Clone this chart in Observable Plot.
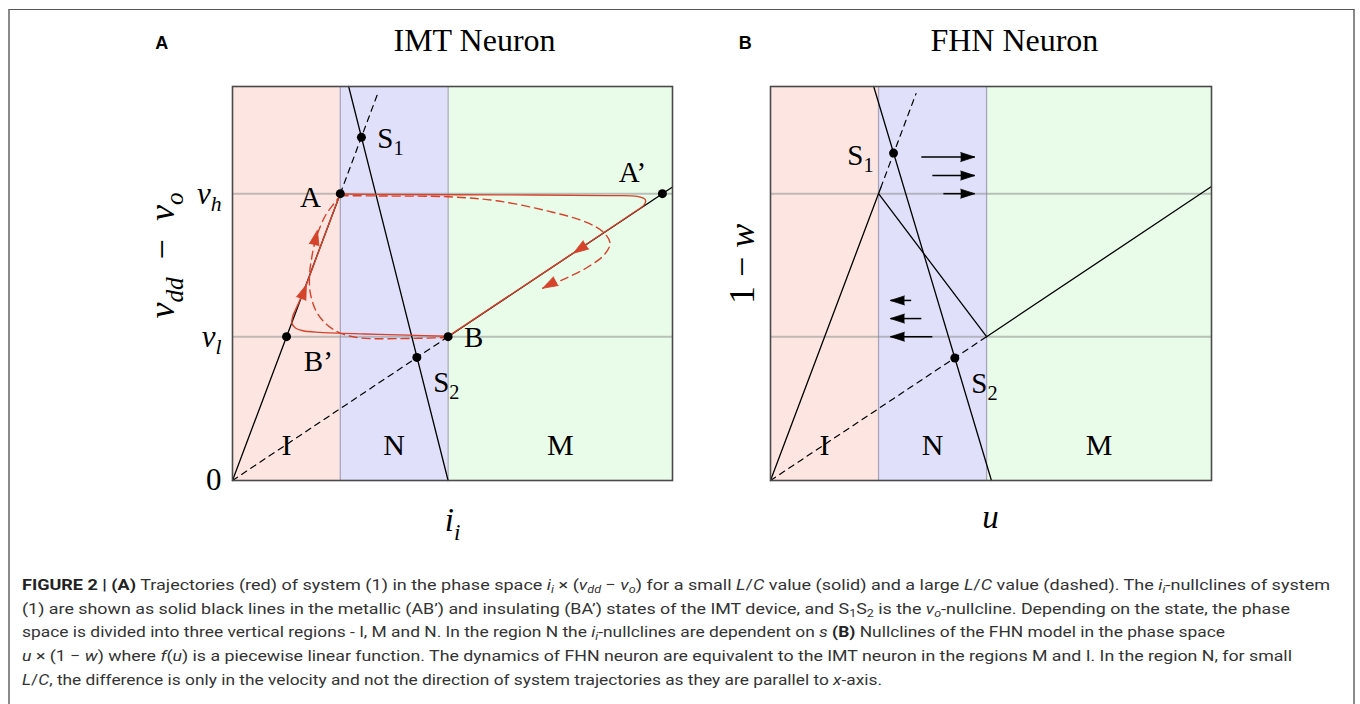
<!DOCTYPE html>
<html><head><meta charset="utf-8">
<script src="https://cdn.jsdelivr.net/npm/d3@7"></script>
<script src="https://cdn.jsdelivr.net/npm/@observablehq/plot@0.6"></script>
<style>
body{margin:0;background:#fff;}
#root{position:relative;width:1360px;height:704px;overflow:hidden;background:#fff;}
.panel{position:absolute;top:0;}
#frame{position:absolute;left:8px;top:9px;width:1343px;height:740px;border-top:1.5px solid #555;border-left:2px solid #8a8a8a;border-right:2px solid #8a8a8a;pointer-events:none;z-index:5;}
.cap{position:absolute;left:22px;white-space:nowrap;font-family:Roboto,"Liberation Sans",sans-serif;font-size:15.5px;line-height:24px;color:#333;transform-origin:0 50%;}
.cap sub{font-size:70%;vertical-align:-0.3em;line-height:0;}
.cap b{font-weight:700;color:#222;}
</style></head>
<body><div id="root"></div>
<script>
// ---------------- shared data ----------------
const regionNames = ["I", "N", "M"];
const regionStart = [0, 2.45, 4.9];
const regionEnd   = [2.45, 4.9, 10];
const regionLabelY = 0.89;
const levelValues = [3.65, 7.28];           // v_l, v_h
const levelTickText = ["v_l", "v_h", "0"];
const levelTickY    = [3.65, 7.28, 0];

// ---------------- panel A : IMT neuron ----------------
const imtMetallic      = [[0, 0], [2.45, 7.28]];
const imtMetallicExt   = [[2.45, 7.28], [3.3, 9.82]];
const imtInsulating    = [[4.9, 3.65], [10, 7.45]];
const imtInsulatingExt = [[0, 0], [4.9, 3.65]];
const imtVoNull        = [[2.64, 10], [4.9, 0]];
const imtPointX = [2.45, 9.77, 4.9, 1.228, 2.93, 4.19];
const imtPointY = [7.28, 7.28, 3.65, 3.65, 8.71, 3.124];
const imtLabelText = ["A", "A’", "B", "B’", "S_1", "S_2"];
const imtLabelX    = [1.77, 9.09, 5.48, 1.95, 3.59, 4.86];
const imtLabelY    = [7.18, 7.82, 3.63, 3.02, 8.68, 2.49];
// trajectory for small L/C (solid): B -> B' -> A, then A -> A' -> B
const trajSolidUp = [[4.9,3.66],[4.0,3.69],[3.0,3.72],[2.0,3.76],[1.6,3.8],[1.43,3.87],[1.35,3.99],[1.37,4.17],[1.46,4.4],[1.6,4.75],
  [2.0,5.94],[2.3,6.84],[2.45,7.27]];
const trajSolidDown = [[2.45,7.27],[3.5,7.26],[6.0,7.25],[8.5,7.23],[9.2,7.21],[9.38,7.13],[9.36,7.0],[9.1,6.79],[7.0,5.22],[4.9,3.66]];
// trajectory for large L/C (dashed)
const trajDashedUp = [[4.9,3.63],[3.75,3.6],[2.9,3.62],[2.45,3.74],[2.13,3.97],[1.9,4.3],[1.77,4.75],[1.75,5.2],[1.8,5.65],[1.9,6.15],
  [2.1,6.7],[2.3,7.02],[2.45,7.23]];
const trajDashedDown = [[2.45,7.23],[3.5,7.22],[4.9,7.2],[6.0,7.1],[7.2,6.83],[8.05,6.55],[8.45,6.28],[8.58,6.02],[8.45,5.73],[8.05,5.4],[7.55,5.12],[7.05,4.88]];
const redArrowX  = [1.68, 1.93, 7.75, 7.05];
const redArrowY  = [4.97, 6.35, 5.77, 4.88];
const redArrowDX = [1, 0.12, -1, -0.5];
const redArrowDY = [2.97, 0.6, -0.745, -0.3];

// ---------------- panel B : FHN neuron ----------------
const fhnLeft     = [[0, 0], [2.5, 7.43]];
const fhnLeftExt  = [[2.5, 7.43], [3.3, 9.82]];
const fhnMiddle   = [[2.45, 7.28], [4.9, 3.65]];
const fhnRight    = [[4.9, 3.65], [10, 7.46]];
const fhnOrigin   = [[0, 0], [4.9, 3.65]];
const fhnWNull    = [[2.34, 10], [5.01, 0]];
const fhnPointX = [2.79, 4.18];
const fhnPointY = [8.31, 3.11];
const fhnLabelText = ["S_1", "S_2"];
const fhnLabelX = [2.04, 4.85];
const fhnLabelY = [8.25, 2.46];
const flowRightTail = [3.42, 3.67, 3.92];
const flowRightTip  = [4.63, 4.63, 4.63];
const flowRightY    = [8.21, 7.74, 7.28];
const flowLeftTail  = [3.19, 3.42, 3.67];
const flowLeftTip   = [2.72, 2.72, 2.72];
const flowLeftY     = [4.57, 4.11, 3.65];

// ---------------- styles ----------------
const RED = "#d5432b";
const SERIF = "Liberation Serif, 'DejaVu Serif', serif";
const SANS = "Liberation Sans, Arial, sans-serif";
const regionColors = ["#fde6e1", "#e0e0fa", "#e9fce9"];

const rich = {
  "v_h": {fs: 31, segs: [["v","i"],["h","is"]]},
  "v_l": {fs: 31, segs: [["v","i"],["l","is"]]},
  "S_1": {fs: 29, segs: [["S",""],["1","s"]]},
  "S_2": {fs: 29, segs: [["S",""],["2","s"]]},
  "vdd-vo": {fs: 36, segs: [["v","i"],["dd","is"],["  ",""],["\u2212",""],["  ",""],["v","i"],["o","is"]]},
  "1-w": {fs: 36, segs: [["1 ",""],["\u2212",""],[" ",""],["w","i"]]},
  "i_i": {fs: 33, segs: [["i","i"],["i","is"]]},
  "u": {fs: 33, segs: [["u","i"]]}
};
function applyRich(svg) {
  svg.querySelectorAll("text").forEach(t => {
    const spec = rich[t.textContent];
    if (!spec) return;
    while (t.firstChild) t.removeChild(t.firstChild);
    t.setAttribute("font-size", spec.fs);
    let shift = 0;
    for (const [s, f] of spec.segs) {
      const ts = document.createElementNS("http://www.w3.org/2000/svg", "tspan");
      ts.textContent = s;
      ts.setAttribute("font-style", f.includes("i") ? "italic" : "normal");
      const sub = f.includes("s");
      const want = sub ? spec.fs * 0.25 : 0;
      if (want !== shift) { ts.setAttribute("dy", want - shift); shift = want; }
      ts.setAttribute("font-size", sub ? spec.fs * 0.7 : spec.fs);
      t.appendChild(ts);
    }
  });
}

const pairs = (pts, id) => pts.map(p => ({x: p[0], y: p[1], id}));
const ang = (dx, dy, kx, ky) => Math.atan2(dx * kx, dy * ky) * 180 / Math.PI;
const regions = regionNames.map((n, i) => ({name: n, x1: regionStart[i], x2: regionEnd[i]}));

function baseMarks() {
  return [
    Plot.rect(regions, {x1: "x1", x2: "x2", fill: "name"}),
    Plot.ruleX(regionStart.slice(1), {stroke: "#aaa4bc", strokeWidth: 1.3}),
    Plot.ruleY(levelValues, {stroke: "#8f8f8f", strokeOpacity: 0.55, strokeWidth: 2}),
    Plot.text(regions, {x: d => (d.x1 + d.x2) / 2, y: () => regionLabelY, text: "name", fontFamily: SERIF, fontSize: 30, fill: "black"})
  ];
}

function plotPanel(cfg) {
  const svg = Plot.plot({
    width: cfg.width, height: 545,
    marginLeft: cfg.ml, marginRight: cfg.mr, marginTop: 86, marginBottom: 65,
    x: {domain: [0, 10], axis: null},
    y: {domain: [0, 10], axis: null},
    color: {domain: regionNames, range: regionColors},
    style: {background: "transparent", overflow: "visible"},
    marks: cfg.marks
  });
  svg.classList.add("panel");
  svg.style.left = cfg.left + "px";
  applyRich(svg);
  return svg;
}

const root = document.getElementById("root");

// Panel A
const kxA = 44, kyA = 39.4;
const imtSolidLines = [...pairs(imtMetallic, "m"), ...pairs(imtInsulating, "i"), ...pairs(imtVoNull, "v")];
const imtDashLines = [...pairs(imtMetallicExt, "m"), ...pairs(imtInsulatingExt, "i")];
const imtPoints = imtPointX.map((x, i) => ({x, y: imtPointY[i]}));
const imtLabels = imtLabelText.map((t, i) => ({t, x: imtLabelX[i], y: imtLabelY[i]}));
const redArrows = redArrowX.map((x, i) => ({x, y: redArrowY[i], a: ang(redArrowDX[i], redArrowDY[i], kxA, kyA)}));
const ticks = levelTickText.map((t, i) => ({t, y: levelTickY[i]}));
const solidTraj = [...pairs(trajSolidUp, "u"), ...pairs(trajSolidDown, "d")];
const dashedTraj = [...pairs(trajDashedUp, "u"), ...pairs(trajDashedDown, "d")];

root.appendChild(plotPanel({
  width: 700, ml: 232, mr: 28, left: 0,
  marks: [
    ...baseMarks(),
    Plot.line(imtDashLines, {x: "x", y: "y", z: "id", stroke: "black", strokeWidth: 1.2, strokeDasharray: "6,5"}),
    Plot.line(imtSolidLines, {x: "x", y: "y", z: "id", stroke: "black", strokeWidth: 1.3}),
    Plot.line(dashedTraj, {x: "x", y: "y", z: "id", curve: "catmull-rom", stroke: RED, strokeWidth: 1.4, strokeDasharray: "8,5"}),
    Plot.line(solidTraj, {x: "x", y: "y", z: "id", curve: "catmull-rom", stroke: RED, strokeWidth: 1.4}),
    Plot.vector(redArrows, {x: "x", y: "y", rotate: "a", length: 15, r: 5, shape: "spike", anchor: "end", fill: RED, stroke: RED, strokeWidth: 0.8}),
    Plot.frame({stroke: "#4a4a4a", strokeWidth: 1.6}),
    Plot.dot(imtPoints, {x: "x", y: "y", r: 4.5, fill: "black"}),
    Plot.text(imtLabels, {x: "x", y: "y", text: "t", fontFamily: SERIF, fontSize: 29, fill: "black"}),
    Plot.text(ticks, {x: () => -0.25, y: "y", text: "t", textAnchor: "end", fontFamily: SERIF, fontSize: 31, fill: "black"}),
    Plot.text(["vdd-vo"], {x: () => -1.59, y: () => 5.71, text: d => d, rotate: -90, fontFamily: SERIF, fontSize: 36, fill: "black"}),
    Plot.text(["i_i"], {x: () => 5.0, y: () => -1.02, text: d => d, fontFamily: SERIF, fontSize: 33, fill: "black"}),
    Plot.text(["A"], {x: () => -1.61, y: () => 11.09, text: d => d, fontFamily: SANS, fontWeight: "bold", fontSize: 18, fill: "black"}),
    Plot.text(["IMT Neuron"], {x: () => 5.5, y: () => 11.17, text: d => d, fontFamily: SERIF, fontSize: 32, fill: "black"})
  ]
}));

// Panel B
const kxB = 44.1, kyB = 39.4;
const fhnSolidLines = [...pairs(fhnLeft, "l"), ...pairs(fhnMiddle, "m"), ...pairs(fhnRight, "r"), ...pairs(fhnWNull, "w")];
const fhnDashLines = [...pairs(fhnLeftExt, "e"), ...pairs(fhnOrigin, "o")];
const fhnPoints = fhnPointX.map((x, i) => ({x, y: fhnPointY[i]}));
const fhnLabels = fhnLabelText.map((t, i) => ({t, x: fhnLabelX[i], y: fhnLabelY[i]}));
const flows = [
  ...flowRightTail.map((x, i) => ({x1: x, x2: flowRightTip[i], y: flowRightY[i], a: ang(1, 0, kxB, kyB)})),
  ...flowLeftTail.map((x, i) => ({x1: x, x2: flowLeftTip[i], y: flowLeftY[i], a: ang(-1, 0, kxB, kyB)}))
];

root.appendChild(plotPanel({
  width: 660, ml: 70, mr: 149, left: 700,
  marks: [
    ...baseMarks(),
    Plot.line(fhnDashLines, {x: "x", y: "y", z: "id", stroke: "black", strokeWidth: 1.2, strokeDasharray: "6,5"}),
    Plot.line(fhnSolidLines, {x: "x", y: "y", z: "id", stroke: "black", strokeWidth: 1.3}),
    Plot.link(flows, {x1: "x1", x2: "x2", y1: "y", y2: "y", stroke: "black", strokeWidth: 1.5}),
    Plot.vector(flows, {x: "x2", y: "y", rotate: "a", length: 14, r: 4.5, shape: "spike", anchor: "end", fill: "black", stroke: "black", strokeWidth: 0.8}),
    Plot.frame({stroke: "#4a4a4a", strokeWidth: 1.6}),
    Plot.dot(fhnPoints, {x: "x", y: "y", r: 4.5, fill: "black"}),
    Plot.text(fhnLabels, {x: "x", y: "y", text: "t", fontFamily: SERIF, fontSize: 29, fill: "black"}),
    Plot.text(["1-w"], {x: () => -0.63, y: () => 5.5, text: d => d, rotate: -90, fontFamily: SERIF, fontSize: 36, fill: "black"}),
    Plot.text(["u"], {x: () => 4.99, y: () => -0.94, text: d => d, fontFamily: SERIF, fontSize: 33, fill: "black"}),
    Plot.text(["B"], {x: () => -0.57, y: () => 11.09, text: d => d, fontFamily: SANS, fontWeight: "bold", fontSize: 18, fill: "black"}),
    Plot.text(["FHN Neuron"], {x: () => 5.53, y: () => 11.17, text: d => d, fontFamily: SERIF, fontSize: 32, fill: "black"})
  ]
}));

// frame around figure
const frame = document.createElement("div");
frame.id = "frame";
root.appendChild(frame);

// caption
const captionLines = [
  '<b>FIGURE 2 | (A)</b> Trajectories (red) of system (1) in the phase space <i>i</i><sub><i>i</i></sub> × (<i>v</i><sub><i>dd</i></sub> − <i>v</i><sub><i>o</i></sub>) for a small <i>L</i>/<i>C</i> value (solid) and a large <i>L</i>/<i>C</i> value (dashed). The <i>i</i><sub><i>i</i></sub>-nullclines of system',
  '(1) are shown as solid black lines in the metallic (AB’) and insulating (BA’) states of the IMT device, and S<sub>1</sub>S<sub>2</sub> is the <i>v</i><sub><i>o</i></sub>-nullcline. Depending on the state, the phase',
  'space is divided into three vertical regions - I, M and N. In the region N the <i>i</i><sub><i>i</i></sub>-nullclines are dependent on <i>s</i> <b>(B)</b> Nullclines of the FHN model in the phase space',
  '<i>u</i> × (1 − <i>w</i>) where <i>f</i>(<i>u</i>) is a piecewise linear function. The dynamics of FHN neuron are equivalent to the IMT neuron in the regions M and I. In the region N, for small',
  '<i>L</i>/<i>C</i>, the difference is only in the velocity and not the direction of system trajectories as they are parallel to <i>x</i>-axis.'
];
const captionTops = [573, 597, 620, 644, 668];
const captionEnds = [1330, 1290, 1225, 1292, 882];
captionLines.forEach((h, i) => {
  const d = document.createElement("div");
  d.className = "cap";
  d.innerHTML = h;
  d.style.top = captionTops[i] + "px";
  root.appendChild(d);
  const w = d.getBoundingClientRect().width;
  d.style.transform = `scaleX(${(captionEnds[i] - 22) / w})`;
});
</script>
</body></html>
